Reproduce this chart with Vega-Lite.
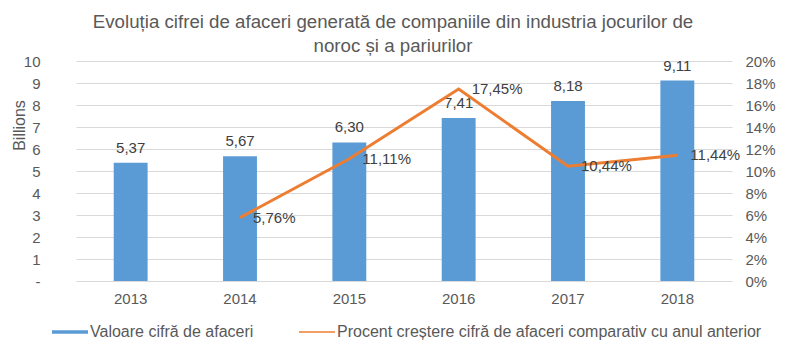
{
  "$schema": "https://vega.github.io/schema/vega-lite/v6.json",
  "width": 656,
  "height": 220,
  "autosize": {"type": "none"},
  "padding": {"left": 76, "top": 61, "right": 68, "bottom": 77},
  "background": "white",
  "config": {
    "font": "Liberation Sans",
    "view": {"stroke": null},
    "locale": {"number": {"decimal": ",", "thousands": ".", "grouping": [3], "currency": ["", ""]}},
    "axis": {"labelColor": "#595959", "labelFontSize": 15, "titleColor": "#595959", "domain": false, "ticks": false, "labelOverlap": false}
  },
  "title": {
    "text": ["Evoluția cifrei de afaceri generată de companiile din industria jocurilor de", "noroc și a pariurilor"],
    "fontSize": 18.7,
    "fontWeight": "normal",
    "color": "#595959",
    "lineHeight": 24,
    "anchor": "middle",
    "frame": "group",
    "offset": -2,
    "dx": -11
  },
  "data": {
    "values": [
      {"year": "2013", "value": 5.37, "growth": null},
      {"year": "2014", "value": 5.67, "growth": 0.0576},
      {"year": "2015", "value": 6.30, "growth": 0.1111},
      {"year": "2016", "value": 7.41, "growth": 0.1745},
      {"year": "2017", "value": 8.18, "growth": 0.1044},
      {"year": "2018", "value": 9.11, "growth": 0.1144}
    ]
  },
  "encoding": {
    "x": {
      "field": "year",
      "type": "nominal",
      "scale": {"paddingInner": 0.69, "paddingOuter": 0.345},
      "axis": {"title": null, "labelAngle": 0, "labelPadding": 10, "grid": false}
    }
  },
  "layer": [
    {
      "encoding": {
        "y": {
          "field": "value",
          "type": "quantitative",
          "scale": {"domain": [0, 10], "nice": false},
          "axis": {
            "title": "Billions",
            "titleFontSize": 16,
            "titleFontWeight": "normal",
            "titleAngle": -90,
            "titleX": -57,
            "titleY": 64,
            "titleAlign": "center",
            "titleBaseline": "middle",
            "values": [0, 1, 2, 3, 4, 5, 6, 7, 8, 9, 10],
            "labelExpr": "datum.value == 0 ? '-\u00a0\u00a0' : datum.label",
            "labelOverlap": false,
            "labelBound": false,
            "labelFlush": false,
            "labelPadding": 36,
            "grid": true,
            "gridColor": "#D9D9D9",
            "gridWidth": 1
          }
        }
      },
      "layer": [
        {
          "mark": {"type": "bar"},
          "encoding": {
            "color": {
              "datum": "Valoare cifră de afaceri",
              "scale": {
                "domain": ["Valoare cifră de afaceri", "Procent creștere cifră de afaceri comparativ cu anul anterior"],
                "range": ["#5B9BD5", "#ED7D31"]
              },
              "legend": {
                "title": null,
                "orient": "none",
                "direction": "horizontal",
                "legendX": -24,
                "legendY": 253,
                "symbolType": "M-1,-0.1H1V0.1H-1Z",
                "symbolSize": 1296,
                "symbolStrokeWidth": 0,
                "labelFontSize": 16,
                "labelColor": "#595959",
                "labelOffset": 2,
                "labelLimit": 0,
                "columnPadding": 45,
                "encode": {
                  "symbols": {
                    "update": {
                      "shape": {"signal": "datum.value == 'Valoare cifră de afaceri' ? 'M-1,-0.1H1V0.1H-1Z' : 'M-1,-0.036H1V0.036H-1Z'"}
                    }
                  }
                }
              }
            }
          }
        },
        {
          "mark": {"type": "text", "baseline": "bottom", "dy": -7, "fontSize": 15, "color": "#404040"},
          "encoding": {
            "text": {"field": "value", "type": "quantitative", "format": ".2f"}
          }
        }
      ]
    },
    {
      "transform": [{"filter": "datum.growth != null"}],
      "encoding": {
        "y": {
          "field": "growth",
          "type": "quantitative",
          "scale": {"domain": [0, 0.2], "nice": false},
          "axis": {
            "orient": "right",
            "title": null,
            "format": ".0%",
            "values": [0, 0.02, 0.04, 0.06, 0.08, 0.1, 0.12, 0.14, 0.16, 0.18, 0.2],
            "labelOverlap": false,
            "labelBound": false,
            "labelFlush": false,
            "labelPadding": 13,
            "grid": false
          }
        }
      },
      "layer": [
        {
          "mark": {"type": "line", "strokeWidth": 3},
          "encoding": {
            "color": {"datum": "Procent creștere cifră de afaceri comparativ cu anul anterior"}
          }
        },
        {
          "mark": {"type": "text", "align": "left", "baseline": "middle", "dx": 13, "fontSize": 15, "color": "#404040"},
          "encoding": {
            "text": {"field": "growth", "type": "quantitative", "format": ".2%"}
          }
        }
      ]
    }
  ],
  "resolve": {"scale": {"y": "independent"}}
}
